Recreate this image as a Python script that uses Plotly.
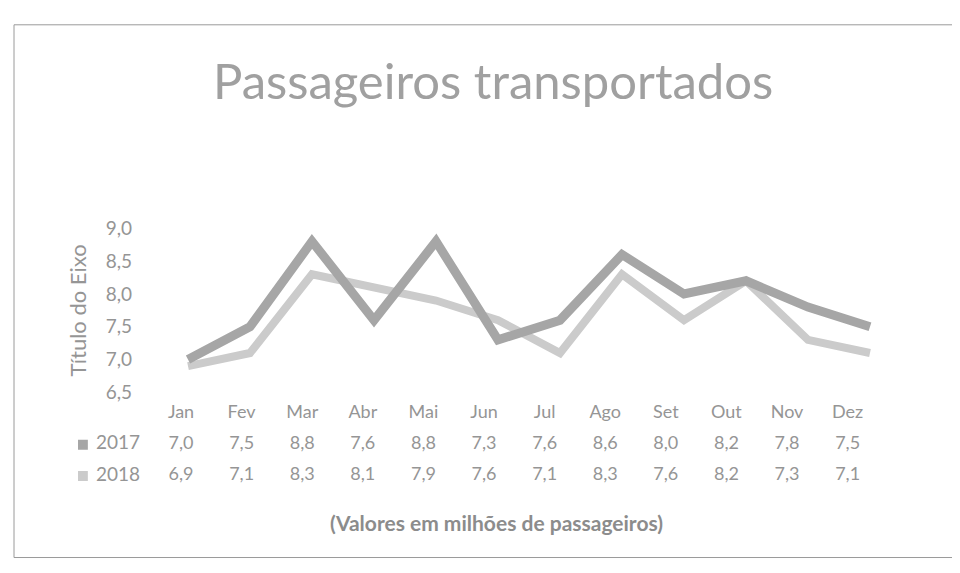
import plotly.graph_objects as go

months = ["Jan", "Fev", "Mar", "Abr", "Mai", "Jun", "Jul", "Ago", "Set", "Out", "Nov", "Dez"]
series_names = ["2017", "2018"]
values_2017 = [7.0, 7.5, 8.8, 7.6, 8.8, 7.3, 7.6, 8.6, 8.0, 8.2, 7.8, 7.5]
values_2018 = [6.9, 7.1, 8.3, 8.1, 7.9, 7.6, 7.1, 8.3, 7.6, 8.2, 7.3, 7.1]
y_ticks = [6.5, 7.0, 7.5, 8.0, 8.5, 9.0]

W, H = 960, 573
FONT = "Lato, 'Open Sans', sans-serif"
TXT = "#959595"
C2017 = "#a6a6a6"
C2018 = "#cbcbcb"

idx = list(range(len(months)))

fig = go.Figure()

# chart lines (2018 first so 2017 sits on top)
fig.add_trace(go.Scatter(x=idx, y=values_2018, mode="lines", name="2018",
                         line=dict(color=C2018, width=8), xaxis="x", yaxis="y",
                         showlegend=False))
fig.add_trace(go.Scatter(x=idx, y=values_2017, mode="lines", name="2017",
                         line=dict(color=C2017, width=9), xaxis="x", yaxis="y",
                         showlegend=False))

# data table below the chart
fmt = lambda v: f"{v:.1f}".replace(".", ",")
fig.add_trace(go.Scatter(x=idx, y=[2] * len(months), mode="text", text=months,
                         textfont=dict(family=FONT, size=18, color=TXT),
                         xaxis="x2", yaxis="y2", showlegend=False, hoverinfo="skip"))
for row, (name, vals, col) in enumerate([("2018", values_2018, C2018), ("2017", values_2017, C2017)]):
    fig.add_trace(go.Scatter(x=idx, y=[row] * len(vals), mode="text",
                             text=[fmt(v) for v in vals],
                             textfont=dict(family=FONT, size=18, color=TXT),
                             xaxis="x2", yaxis="y2", showlegend=False, hoverinfo="skip"))
    fig.add_trace(go.Scatter(x=[-1.04], y=[row], mode="text", text=[name],
                             textfont=dict(family=FONT, size=19, color=TXT),
                             xaxis="x2", yaxis="y2", showlegend=False, hoverinfo="skip"))
    fig.add_trace(go.Scatter(x=[-1.62], y=[row], mode="markers",
                             marker=dict(symbol="square", size=10, color=col),
                             xaxis="x2", yaxis="y2", showlegend=False, hoverinfo="skip"))

# axis geometry (pixels -> paper)
x1_left, x1_right = 149, 893
y1_bottom, y1_top = 388, 217
x2_left, x2_right = 70, 876
y2_bottom, y2_top = 491.25, 393.75

fig.update_layout(
    width=W, height=H,
    margin=dict(l=0, r=0, t=0, b=0),
    paper_bgcolor="white", plot_bgcolor="white",
    separators=",.",
    font=dict(family=FONT, color=TXT),
    xaxis=dict(domain=[x1_left / W, x1_right / W], range=[-0.5, 11.5],
               showticklabels=False, showgrid=False, zeroline=False, showline=False),
    yaxis=dict(domain=[1 - y1_bottom / H, 1 - y1_top / H], range=[6.5, 9.0],
               tickvals=y_ticks, tickformat=".1f", showgrid=False, zeroline=False,
               showline=False, ticks="", ticklabelstandoff=24,
               tickfont=dict(family=FONT, size=19, color=TXT),
               title=dict(text="Título do Eixo", standoff=12,
                          font=dict(family=FONT, size=22, color=TXT))),
    xaxis2=dict(domain=[x2_left / W, x2_right / W], range=[-1.7, 11.6], anchor="y2",
                visible=False),
    yaxis2=dict(domain=[1 - y2_bottom / H, 1 - y2_top / H], range=[-0.5, 2.5],
                anchor="x2", visible=False),
    annotations=[
        dict(text="Passageiros transportados", x=485 / W, y=1 - 62 / H, xref="paper", yref="paper",
             xanchor="center", yanchor="middle", showarrow=False,
             font=dict(family=FONT, size=49, color="#a0a0a0")),
        dict(text="<b>(Valores em milhões de passageiros)</b>", x=488 / W, y=1 - 524 / H,
             xref="paper", yref="paper", xanchor="center", yanchor="middle", showarrow=False,
             font=dict(family=FONT, size=21, color="#8c8c8c")),
    ],
    shapes=[
        dict(type="rect", xref="paper", yref="paper", x0=6 / W, x1=946 / W,
             y0=1 - 560 / H, y1=1 - 5 / H, line=dict(color="#9a9a9a", width=1)),
    ],
)

fig.write_html("out.html")
